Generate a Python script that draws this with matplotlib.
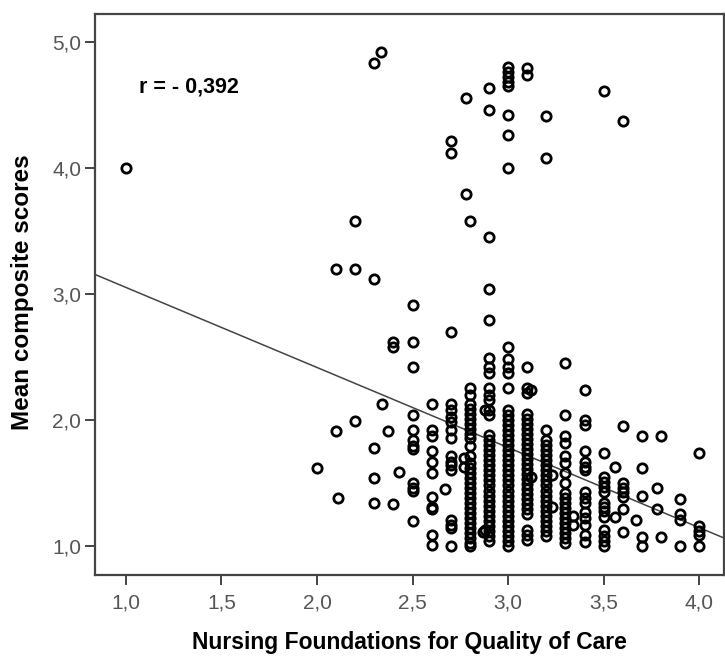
import matplotlib
matplotlib.use('Agg')
import matplotlib.pyplot as plt
import numpy as np

plt.rcParams['font.family'] = ['Liberation Sans', 'DejaVu Sans']

# Mean composite scores, grouped by Nursing Foundations score (columns of points)
col_2_1 = [3.20, 1.91]
col_2_2 = [3.58, 3.20, 1.99]
col_2_3 = [4.83, 3.12, 1.78, 1.54, 1.34]
col_2_4 = [2.62, 2.58, 1.33]
col_2_5 = [2.91, 2.62, 2.42, 2.04, 1.92, 1.84, 1.79, 1.77, 1.50, 1.46, 1.44, 1.20]
col_2_6 = [2.13, 1.92, 1.87, 1.75, 1.67, 1.58, 1.39, 1.31, 1.29, 1.09, 1.01]
col_2_7 = [4.21, 4.12, 2.70, 2.13, 2.08, 2.02, 1.98, 1.92, 1.86, 1.71, 1.67, 1.64,
           1.60, 1.21, 1.17, 1.14, 1.00]
col_2_8 = [3.58, 2.25, 2.20, 2.13, 2.09, 2.05, 2.01, 1.97, 1.93, 1.89, 1.86, 1.79,
           1.71, 1.66, 1.62, 1.58, 1.54, 1.50, 1.46, 1.42, 1.38, 1.34, 1.30, 1.26,
           1.22, 1.18, 1.14, 1.10, 1.06, 1.02, 1.00]
col_2_9 = [4.63, 4.46, 3.45, 3.04, 2.79, 2.49, 2.42, 2.37, 2.25, 2.20, 2.16, 2.08,
           2.04, 1.88, 1.84, 1.80, 1.76, 1.72, 1.68, 1.64, 1.60, 1.56, 1.52, 1.48,
           1.44, 1.40, 1.36, 1.32, 1.28, 1.24, 1.20, 1.16, 1.12, 1.08, 1.04]
col_3_0 = [4.80, 4.76, 4.72, 4.68, 4.65, 4.42, 4.26, 4.00, 2.58, 2.48, 2.42, 2.37,
           2.25, 2.08, 2.04, 2.00, 1.96, 1.92, 1.88, 1.84, 1.80, 1.76, 1.72, 1.68,
           1.64, 1.60, 1.56, 1.52, 1.48, 1.44, 1.40, 1.36, 1.32, 1.28, 1.24, 1.20,
           1.16, 1.12, 1.08, 1.04, 1.00]
col_3_1 = [4.79, 4.74, 2.42, 2.25, 2.21, 2.05, 2.01, 1.97, 1.93, 1.89, 1.85, 1.81,
           1.77, 1.73, 1.69, 1.65, 1.61, 1.57, 1.53, 1.49, 1.45, 1.41, 1.37, 1.33,
           1.29, 1.25, 1.13, 1.09, 1.05]
col_3_2 = [4.41, 4.08, 1.92, 1.84, 1.80, 1.76, 1.72, 1.68, 1.64, 1.60, 1.56, 1.52,
           1.48, 1.44, 1.40, 1.36, 1.32, 1.28, 1.24, 1.20, 1.16, 1.12, 1.08]
col_3_3 = [2.45, 2.04, 1.87, 1.82, 1.71, 1.66, 1.58, 1.50, 1.42, 1.38, 1.34, 1.30,
           1.26, 1.22, 1.18, 1.14, 1.10, 1.06, 1.02]
col_3_4 = [2.24, 2.00, 1.96, 1.75, 1.67, 1.63, 1.60, 1.43, 1.38, 1.34, 1.27, 1.22,
           1.17, 1.09, 1.03]
col_3_5 = [4.61, 1.74, 1.55, 1.51, 1.47, 1.43, 1.34, 1.31, 1.28, 1.23, 1.13, 1.08,
           1.04, 1.00]
col_3_6 = [4.37, 1.95, 1.50, 1.46, 1.43, 1.39, 1.29, 1.11]
col_3_7 = [1.87, 1.62, 1.40, 1.07, 1.00]
col_3_8 = [1.87, 1.07]
col_3_9 = [1.37, 1.25, 1.21, 1.00]
col_4_0 = [1.74, 1.16, 1.12, 1.09, 1.00]

columns = {2.1: col_2_1, 2.2: col_2_2, 2.3: col_2_3, 2.4: col_2_4, 2.5: col_2_5,
           2.6: col_2_6, 2.7: col_2_7, 2.8: col_2_8, 2.9: col_2_9, 3.0: col_3_0,
           3.1: col_3_1, 3.2: col_3_2, 3.3: col_3_3, 3.4: col_3_4, 3.5: col_3_5,
           3.6: col_3_6, 3.7: col_3_7, 3.8: col_3_8, 3.9: col_3_9, 4.0: col_4_0}

# points that sit off the regular columns
other_x = [1.00, 2.00, 2.11, 2.337, 2.34, 2.37, 2.43, 2.67, 2.77, 2.77, 2.78, 2.78,
           2.87, 2.88, 2.88, 3.12, 3.12, 3.23, 3.23, 3.34, 3.34, 3.56, 3.56, 3.67,
           3.78, 3.78]
other_y = [4.00, 1.62, 1.38, 4.92, 2.13, 1.91, 1.59, 1.45, 1.70, 1.63, 4.55, 3.79,
           1.11, 2.08, 1.13, 2.24, 1.55, 1.56, 1.31, 1.24, 1.17, 1.63, 1.23, 1.21,
           1.46, 1.29]

# fit line
fit_intercept = 3.686
fit_slope = -0.635
r_label = 'r = - 0,392'

xs = list(other_x)
ys = list(other_y)
for xv, vals in columns.items():
    xs += [xv] * len(vals)
    ys += vals

fig = plt.figure(figsize=(7.25, 6.58), dpi=100)
ax = fig.add_axes([95 / 725, 1 - 575 / 658, 629 / 725, 561 / 658])

ax.plot(xs, ys, 'o', markersize=6.7, markerfacecolor='none',
        markeredgecolor='black', markeredgewidth=2.0, zorder=3)

xlim = (0.838, 4.13)
line_x = np.array(xlim)
ax.plot(line_x, fit_intercept + fit_slope * line_x, color='#444444', linewidth=1.1, zorder=2)

ax.set_xlim(*xlim)
ax.set_ylim(0.77, 5.22)

ax.set_xticks([1.0, 1.5, 2.0, 2.5, 3.0, 3.5, 4.0])
ax.set_yticks([1.0, 2.0, 3.0, 4.0, 5.0])
ax.set_xticklabels(['1,0', '1,5', '2,0', '2,5', '3,0', '3,5', '4,0'])
ax.set_yticklabels(['1,0', '2,0', '3,0', '4,0', '5,0'])
ax.tick_params(axis='both', direction='out', length=7, width=1.4, color='#444444',
               labelsize=15, labelcolor='#555555')
ax.tick_params(axis='x', pad=6)
ax.tick_params(axis='y', pad=3)

for sp in ax.spines.values():
    sp.set_color('#444444')
    sp.set_linewidth(1.6)

ax.set_xlabel('Nursing Foundations for Quality of Care', fontsize=16.5,
              fontweight='bold', va='center')
ax.xaxis.set_label_coords(0.5, -0.121)
ax.set_ylabel('Mean composite scores', fontsize=17.5, fontweight='bold', va='center')
ax.yaxis.set_label_coords(-0.116, 0.505)

ax.text(1.07, 4.64, r_label, fontsize=15.5, fontweight='bold', ha='left', va='center')

fig.savefig('out.png', dpi=100)
